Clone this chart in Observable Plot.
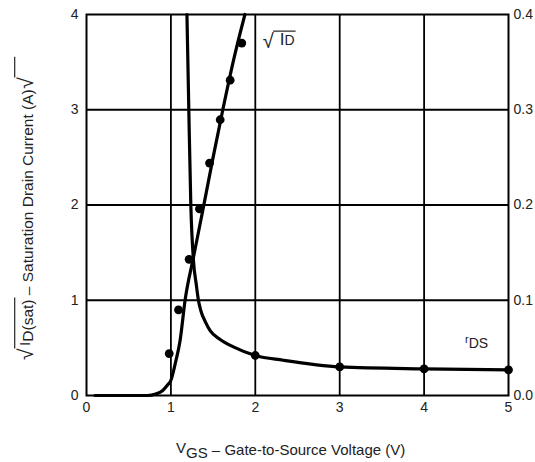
<!DOCTYPE html>
<html>
<head>
<meta charset="utf-8">
<script src="https://cdn.jsdelivr.net/npm/d3@7"></script>
<script src="https://cdn.jsdelivr.net/npm/@observablehq/plot@0.6"></script>
<style>
  body { margin: 0; background: #fff; }
  #chart { position: relative; width: 535px; height: 462px; }
</style>
</head>
<body>
<div id="chart"></div>
<script>
// ---- data ----
const xTicks = [0, 1, 2, 3, 4, 5];
const yLeftTicks = [0, 1, 2, 3, 4];
const yRightTicks = [0.0, 0.1, 0.2, 0.3, 0.4];
const gridXValues = [1, 2, 3, 4];
const gridYValues = [1, 2, 3];
const RDS_TO_LEFT = 10; // right axis 0–0.4 maps onto left axis 0–4

// sqrt(ID) curve
const sqrtLineVgs = [0.1, 0.72, 0.82, 0.9, 0.96, 1.0, 1.05, 1.109, 1.168, 1.267, 1.386, 1.5, 1.615, 1.75, 1.877];
const sqrtLineVal = [0, 0, 0.015, 0.05, 0.11, 0.16, 0.33, 0.577, 1.0, 1.45, 1.98, 2.5, 3.0, 3.55, 4.0];
// sqrt(ID) measured points
const sqrtDotVgs = [0.98, 1.09, 1.216, 1.338, 1.458, 1.584, 1.702, 1.84];
const sqrtDotVal = [0.44, 0.90, 1.43, 1.96, 2.44, 2.895, 3.31, 3.70];
// rDS curve (right axis)
const rdsLineVgs = [1.19, 1.21, 1.236, 1.267, 1.30, 1.326, 1.355, 1.41, 1.465, 1.58, 1.74, 2.0, 2.33, 3.0, 4.0, 5.0];
const rdsLineVal = [0.4, 0.31, 0.2, 0.142, 0.117, 0.1, 0.089, 0.077, 0.068, 0.059, 0.051, 0.042, 0.037, 0.030, 0.028, 0.027];
// rDS measured points
const rdsDotVgs = [2, 3, 4, 5];
const rdsDotVal = [0.042, 0.030, 0.028, 0.027];

// ---- tables ----
const sqrtLine = sqrtLineVgs.map((x, i) => ({x, y: sqrtLineVal[i]}));
const sqrtDots = sqrtDotVgs.map((x, i) => ({x, y: sqrtDotVal[i]}));
const rdsLine = rdsLineVgs.map((x, i) => ({x, r: rdsLineVal[i]}));
const rdsDots = rdsDotVgs.map((x, i) => ({x, r: rdsDotVal[i]}));

const FONT = "'Liberation Sans', Arial, Helvetica, sans-serif";
const INK = "#000";
const TXT = "#222";

const chart = Plot.plot({
  width: 535,
  height: 462,
  marginLeft: 86,
  marginRight: 27,
  marginTop: 14,
  marginBottom: 67,
  style: {fontFamily: FONT, fontSize: "14px", color: TXT, background: "#fff", overflow: "visible"},
  x: {domain: [0, 5]},
  y: {domain: [0, 4]},
  marks: [
    Plot.gridX(gridXValues, {stroke: INK, strokeOpacity: 1, strokeWidth: 1.8}),
    Plot.gridY(gridYValues, {stroke: INK, strokeOpacity: 1, strokeWidth: 1.8}),
    Plot.frame({stroke: INK, strokeWidth: 2}),
    Plot.line(sqrtLine, {x: "x", y: "y", stroke: INK, strokeWidth: 3.2, curve: "monotone-x"}),
    Plot.line(rdsLine, {x: "x", y: d => d.r * RDS_TO_LEFT, stroke: INK, strokeWidth: 3.2, curve: "monotone-x"}),
    Plot.dot(sqrtDots, {x: "x", y: "y", r: 4.4, fill: INK, stroke: "none"}),
    Plot.dot(rdsDots, {x: "x", y: d => d.r * RDS_TO_LEFT, r: 4.4, fill: INK, stroke: "none"}),
    Plot.axisX(xTicks, {tickSize: 0, tickPadding: 7, label: null, fill: TXT, tickFormat: d => String(d)}),
    Plot.axisY(yLeftTicks, {anchor: "left", tickSize: 0, tickPadding: 8, label: null, fill: TXT, tickFormat: d => String(d)}),
    Plot.axisY(yRightTicks.map(t => t * RDS_TO_LEFT), {
      anchor: "right", tickSize: 0, tickPadding: 5, label: null, fill: TXT,
      tickFormat: d => (d / RDS_TO_LEFT).toFixed(1)
    })
  ]
});

document.getElementById("chart").append(chart);

const svg = d3.select(chart);
const sx = chart.scale("x");
const sy = chart.scale("y");

// ---- series labels ----
// sqrt(ID) label
{
  const px = sx.apply(2.094), py = sy.apply(3.67);
  const g = svg.append("g").attr("font-family", FONT).attr("fill", TXT).attr("text-anchor", "start");
  const rad = g.append("text").attr("x", px).attr("y", py + 3).attr("font-size", 20).text("√");
  const rb = rad.node().getBBox();
  const body = g.append("text").attr("x", rb.x + rb.width + 6).attr("y", py);
  body.append("tspan").attr("font-size", 17).text("I");
  body.append("tspan").attr("font-size", 14).text("D");
  const bl = body.node().getComputedTextLength();
  g.append("line")
    .attr("x1", rb.x + rb.width - 0.6).attr("x2", rb.x + rb.width + 6 + bl + 1)
    .attr("y1", rb.y + 0.7).attr("y2", rb.y + 0.7)
    .attr("stroke", TXT).attr("stroke-width", 1.2);
}
// rDS label
{
  const px = sx.apply(4.49), py = sy.apply(0.0493 * RDS_TO_LEFT);
  const t = svg.append("text").attr("x", px).attr("y", py - 5)
    .attr("font-family", FONT).attr("fill", TXT).attr("text-anchor", "start");
  t.append("tspan").attr("font-size", 11).text("r");
  t.append("tspan").attr("font-size", 14).attr("dy", 5).text("DS");
}

// ---- x axis title ----
{
  const t = svg.append("text").attr("x", 176).attr("y", 455)
    .attr("font-family", FONT).attr("font-size", 15).attr("fill", TXT)
    .attr("text-anchor", "start")
    .style("white-space", "pre");
  t.append("tspan").attr("dy", -2).text("V");
  t.append("tspan").attr("dy", 5).text("GS");
  t.append("tspan").attr("dy", -3).text(" – Gate-to-Source Voltage (V)");
}

// ---- y axis title (rotated) ----
{
  const g = svg.append("g").attr("transform", "translate(32,360) rotate(-90)")
    .attr("font-family", FONT).attr("fill", TXT).attr("text-anchor", "start");
  const rad1 = g.append("text").attr("x", 0).attr("y", 1).attr("font-size", 21).text("√");
  const r1 = rad1.node().getBBox();
  const b1x = r1.x + r1.width + 2;
  const b1 = g.append("text").attr("x", b1x).attr("y", -2).attr("font-size", 15.5);
  b1.append("tspan").text("I");
  b1.append("tspan").attr("dy", 3).text("D(sat)");
  const b1len = b1.node().getComputedTextLength();
  g.append("line")
    .attr("x1", r1.x + r1.width - 0.6).attr("x2", b1x + b1len + 2)
    .attr("y1", r1.y + 0.7).attr("y2", r1.y + 0.7)
    .attr("stroke", TXT).attr("stroke-width", 1.2);
  const b2x = b1x + b1len;
  const b2 = g.append("text").attr("x", b2x).attr("y", 1).attr("font-size", 15.5)
    .style("white-space", "pre").text(" – Saturation Drain Current (A)");
  const b2len = b2.node().getComputedTextLength();
  const rad2 = g.append("text").attr("x", b2x + b2len + 0.5).attr("y", 1).attr("font-size", 21).text("√");
  const r2 = rad2.node().getBBox();
  g.append("line")
    .attr("x1", r2.x + r2.width - 0.6).attr("x2", r2.x + r2.width + 20)
    .attr("y1", r2.y + 0.7).attr("y2", r2.y + 0.7)
    .attr("stroke", TXT).attr("stroke-width", 1.2);
}
</script>
</body>
</html>
